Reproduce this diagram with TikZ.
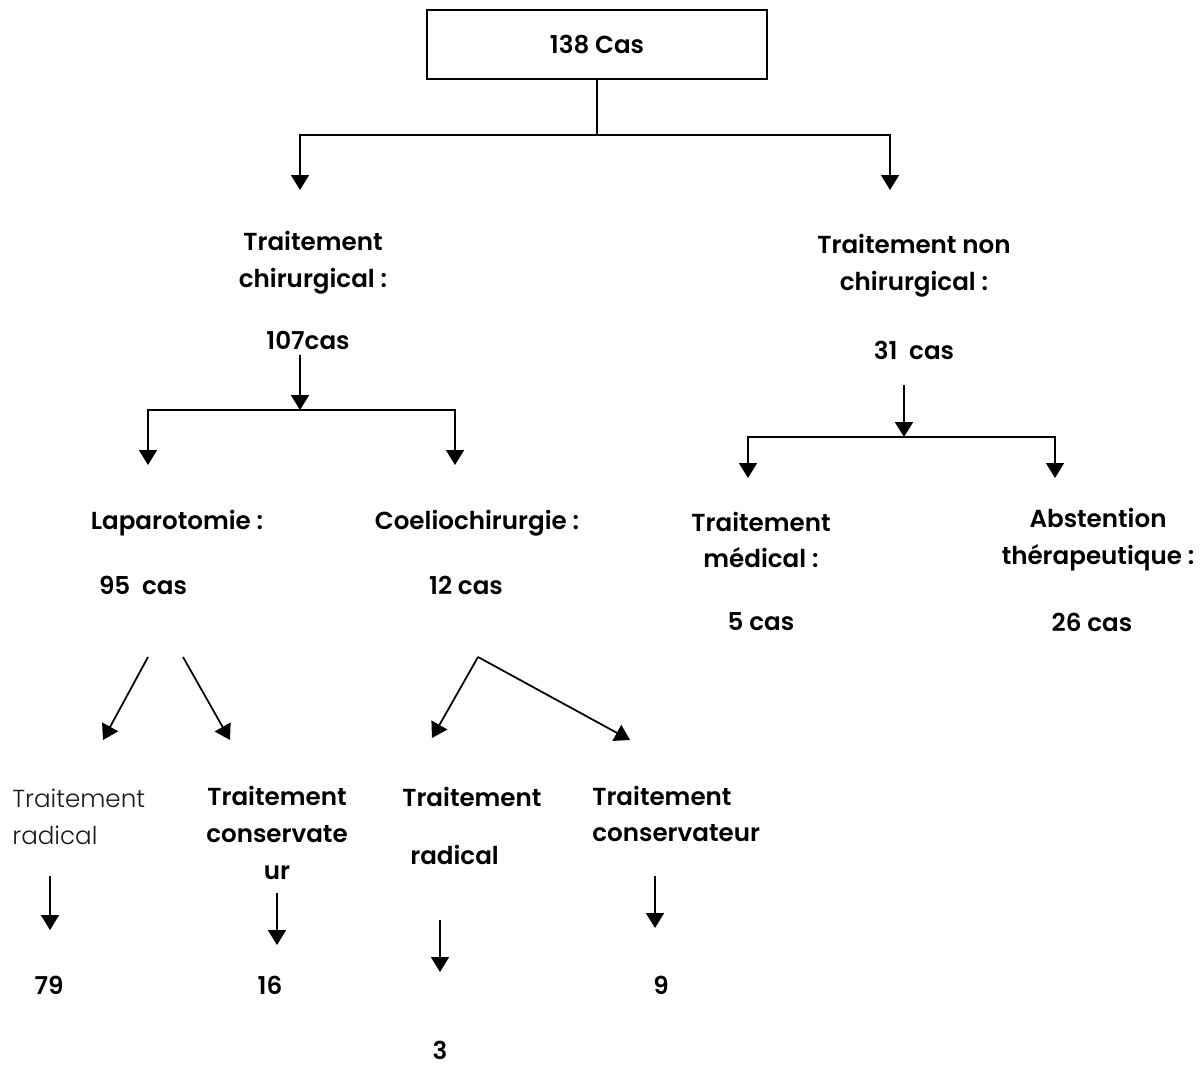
\documentclass[tikz,border=0pt]{standalone}
\usepackage{fontspec}
\setmainfont{Poppins}[BoldFont={Poppins SemiBold}]
\newfontfamily\finofont{Poppins Light}
\usetikzlibrary{arrows.meta}

\begin{document}
\begin{tikzpicture}[x=0.02cm, y=-0.02cm]

	\tikzstyle{caja}=[draw, line width=1pt, minimum width=6.8cm, minimum height=1.38cm, font=\fontsize{14}{21}\selectfont\bfseries]
	\tikzstyle{etiq}=[font=\fontsize{14}{21}\selectfont\bfseries, align=center, inner sep=0pt]
	\tikzstyle{fino}=[font=\fontsize{14}{21}\selectfont\finofont, text=black!90, align=left, inner sep=0pt]
	\tikzstyle{flecha}=[line width=1pt, -{Triangle[length=0.3cm, width=0.36cm]}]
	\tikzstyle{linea}=[line width=1pt]

	\useasboundingbox (0,0) rectangle (1200,1068);

	\node[caja] (total) at (597,44.5) {138 Cas};

	\coordinate (j_0) at (597,135); % PRIMER NIVEL
	\coordinate (a_0_1) at (300,190);
	\coordinate (a_0_2) at (890,190);
	\coordinate (s_1_1) at (300,355); % CHIRURGICAL
	\coordinate (j_1_1) at (300,410);
	\coordinate (a_1_1) at (148,465);
	\coordinate (a_1_2) at (455,465);
	\coordinate (s_1_2) at (904,385); % NON CHIRURGICAL
	\coordinate (j_1_2) at (904,437);
	\coordinate (a_1_3) at (748,478);
	\coordinate (a_1_4) at (1055,478);
	\coordinate (s_2_1) at (148,657); % LAPAROTOMIE
	\coordinate (s_2_2) at (183,657);
	\coordinate (a_2_1) at (103,740);
	\coordinate (a_2_2) at (230,740);
	\coordinate (s_2_3) at (478,657); % COELIOCHIRURGIE
	\coordinate (a_2_3) at (432,738);
	\coordinate (a_2_4) at (630,740);
	\coordinate (s_3_1) at (50,876); % RESULTADOS
	\coordinate (a_3_1) at (50,930);
	\coordinate (s_3_2) at (277,893);
	\coordinate (a_3_2) at (277,945);
	\coordinate (s_3_3) at (440,920);
	\coordinate (a_3_3) at (440,972);
	\coordinate (s_3_4) at (655,876);
	\coordinate (a_3_4) at (655,928);

	\node[etiq] (chir) at (313,263) {Traitement\\chirurgical :};
	\node[etiq] (n_chir) at (308,340) {107cas};
	\node[etiq] (nonchir) at (914,266) {Traitement non\\chirurgical :};
	\node[etiq] (n_nonchir) at (914,350) {31\ \ cas};

	\node[etiq] (lapa) at (177,523) {Laparotomie :};
	\node[etiq] (n_lapa) at (143,585) {95\ \ cas};
	\node[etiq] (coel) at (477,523) {Coeliochirurgie :};
	\node[etiq] (n_coel) at (466,585) {12 cas};
	\node[etiq] (med) at (761,540) {Traitement\\médical :};
	\node[etiq] (n_med) at (761,622) {5 cas};
	\node[etiq] (abst) at (1098,540) {Abstention\\thérapeutique :};
	\node[etiq] (n_abst) at (1092,622) {26 cas};

	\node[fino, anchor=west] (rad_1) at (12,817) {Traitement\\radical};
	\node[etiq] (cons_1) at (277,833) {Traitement\\conservate\\ur};
	\node[etiq, align=left, anchor=west] (rad_2) at (402,826) {Traitement\\[0.42cm]\hspace*{0.16cm}radical};
	\node[etiq, align=left, anchor=west] (cons_2) at (592,814) {Traitement\\conservateur};

	\node[etiq] (n_rad_1) at (49,985) {79};
	\node[etiq] (n_cons_1) at (270,985) {16};
	\node[etiq] (n_rad_2) at (440,1050) {3};
	\node[etiq] (n_cons_2) at (661,985) {9};

	\draw[linea] (total) -- (j_0);
	\draw[flecha] (j_0) -| (a_0_1);
	\draw[flecha] (j_0) -| (a_0_2);

	\draw[flecha] (s_1_1) -- (j_1_1);
	\draw[flecha] (j_1_1) -| (a_1_1);
	\draw[flecha] (j_1_1) -| (a_1_2);
	\draw[flecha] (s_1_2) -- (j_1_2);
	\draw[flecha] (j_1_2) -| (a_1_3);
	\draw[flecha] (j_1_2) -| (a_1_4);

	\draw[flecha] (s_2_1) -- (a_2_1);
	\draw[flecha] (s_2_2) -- (a_2_2);
	\draw[flecha] (s_2_3) -- (a_2_3);
	\draw[flecha] (s_2_3) -- (a_2_4);

	\draw[flecha] (s_3_1) -- (a_3_1);
	\draw[flecha] (s_3_2) -- (a_3_2);
	\draw[flecha] (s_3_3) -- (a_3_3);
	\draw[flecha] (s_3_4) -- (a_3_4);
\end{tikzpicture}
\end{document}
